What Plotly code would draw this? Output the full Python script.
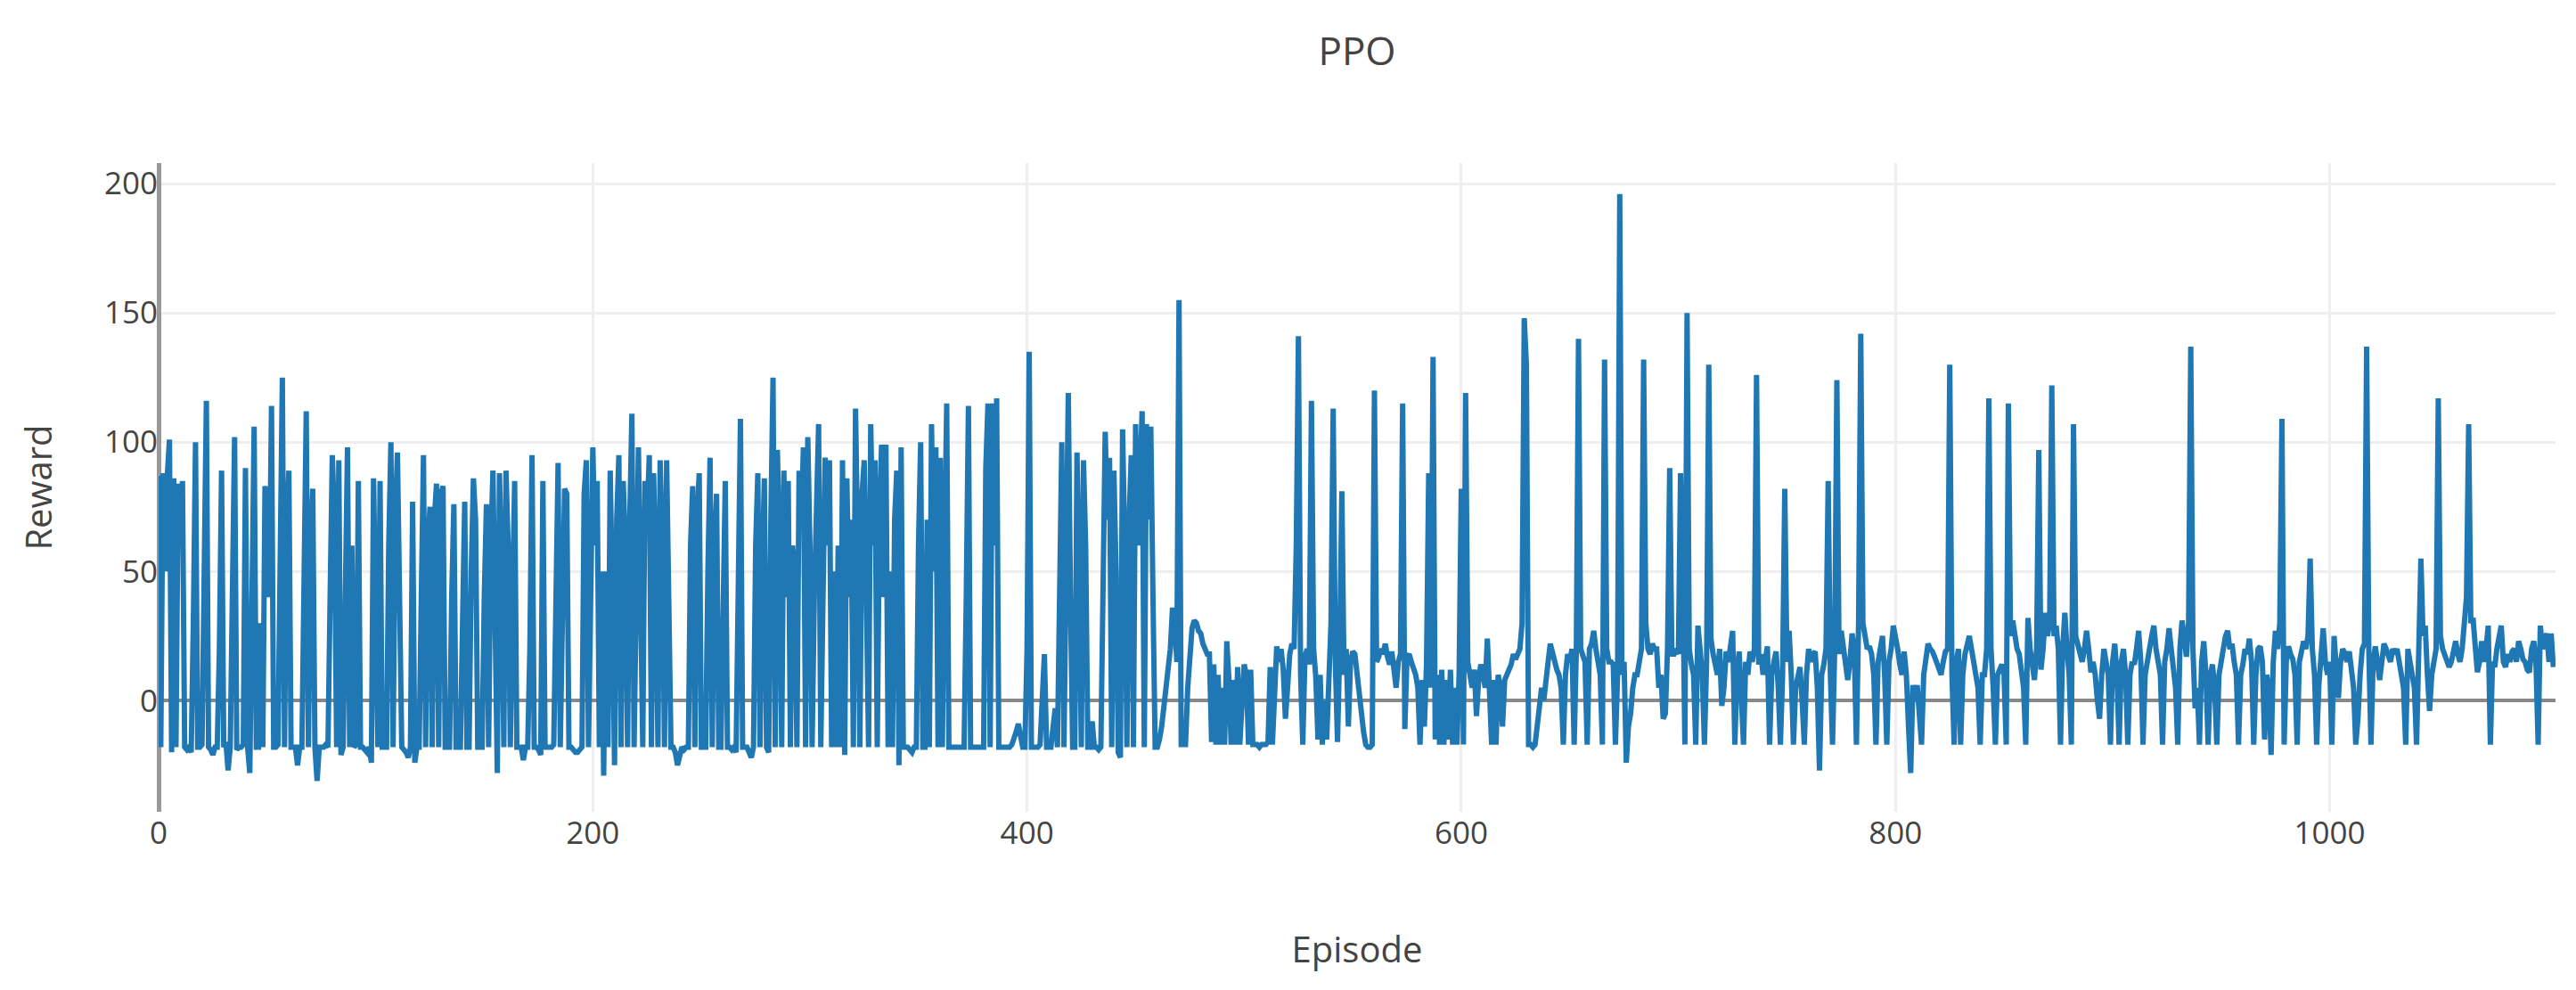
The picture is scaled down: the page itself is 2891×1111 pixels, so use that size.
import plotly.graph_objects as go

# Reward per episode (episodes 0-471)
reward_early = [
    87, -18, 88, 50, 87, 101, -20, 86, -18, 84,
    60, 85, -18, -19, -18, -20, 30, 100, -18, -18,
    -17, 40, 116, -18, -19, -21, -18, -18, 20, 89,
    -18, -16, -27, -18, 60, 102, -19, -18, -18, -17,
    90, -18, -28, 50, 106, -18, -18, 30, -18, 83,
    70, 40, 114, -18, -18, -17, 60, 125, -18, 70,
    89, -18, -18, -18, -25, -18, -18, 50, 112, -18,
    60, 82, -18, -31, -18, -18, -18, -17, -18, 40,
    95, 70, -18, 93, -21, -18, 30, 98, -18, 60,
    -18, -17, 85, -18, -18, -19, -20, -18, -24, 86,
    40, -18, 85, -18, -18, -18, 60, 100, -18, 70,
    96, 20, -18, -19, -20, -22, -18, 77, -24, -18,
    -18, 40, 95, -18, 60, 75, -18, 70, 84, -18,
    80, 83, -18, -18, -18, 40, 76, -18, -18, -18,
    30, 77, -18, -18, 50, 86, 70, -18, -18, -18,
    40, 76, -18, 60, 89, 30, -28, 88, 50, -18,
    89, 60, -18, 40, 85, -18, -18, -18, -23, -18,
    -18, 20, 95, -18, -18, -19, -21, 85, -18, -18,
    -18, -18, -17, 60, 92, -18, 40, 82, 80, -18,
    -18, -19, -20, -20, -19, -18, 80, 93, -18, 40,
    98, 60, 85, -18, 50, -29, 50, -18, 89, 40,
    -25, 70, 95, -18, 85, 60, -18, 70, 111, -18,
    60, 98, 40, -18, 85, 70, 95, -18, 88, 50,
    -18, 93, 60, -18, 93, 30, -18, -18, -20, -25,
    -22, -18, -19, -18, -18, 60, 83, -18, 70, 88,
    -18, -18, -18, 50, 94, -18, 60, 80, -18, -18,
    40, 85, -18, -18, -19, -18, -20, 30, 109, -18,
    -18, -18, -20, -22, -18, 60, 88, -18, 50, 86,
    -18, -20, 70, 125, -18, 97, 60, -18, 89, 40,
    85, -18, 60, 50, -18, 89, 70, 98, -18, 102,
    60, -18, 40, 70, 107, -18, 40, 94, 60, 93,
    -18, 50, -18, 60, -18, 93, -21, 86, 40, 70,
    -18, 113, 60, -18, 80, 93, 40, -18, 107, 60,
    93, -18, 70, 99, 40, 99, -18, 50, -18, 70,
    89, -25, 98, -18, -18, -18, -19, -20, -18, -18,
    60, 100, -18, -18, 70, -18, 107, 50, 98, -18,
    94, -18, 60, 115, -18, -18, -18, -18, -18, -18,
    -18, -18, 40, 114, -18, -18, -18, -18, -18, -18,
    -18, 90, 115, -18, 115, 60, 117, -18, -18, -18,
    -18, -18, -18, -17, -15, -12, -9, -14, -18, -18,
    20, 135, -18, -18, -18, -18, -17, 0, 18, -18,
    -18, -18, -10, -3, -18, 60, 100, -18, 70, 119,
    40, -18, -18, 96, 50, -18, 93, 60, -18, -18,
    -8, -18, -18, -19, -18, 60, 104, 70, 94, -18,
    89, 50, -20, -22, 105, 60, -18, 70, 95, -18,
    107, 60, 80, 112, -18, 107, 70, 106, 40, -18,
    -18, -15, -10, -2, 5, 10, 20, 36, 30, 15,
    155, -17,
]

# Reward per episode (episodes 472-1103)
reward_late = [
    -17, -17, 5, 20, 28, 31, 30, 27,
    26, 22, 20, 18, 18, -16, 14, -17, 10, -17,
    5, -17, 23, 8, -17, 8, -17, 13, -17, 0,
    14, 10, -17, 12, -17, -17, -17, -18, -17, -17,
    -17, -16, 13, -17, 10, 21, 15, 20, 12, -7,
    5, 18, 22, 20, 60, 141, 10, -17, 17, 20,
    14, 116, 20, 9, -15, 10, -17, 0, -15, 5,
    30, 113, 15, -16, 20, 81, 10, 20, -10, 15,
    19, 18, 10, 5, -5, -12, -17, -18, -18, -17,
    120, 15, 17, 20, 18, 22, 17, 14, 19, 10,
    5, 15, 18, 115, -11, 17, 18, 15, 12, 10,
    5, -17, 8, -10, 14, 88, 5, 133, -15, 10,
    -17, 12, -17, 8, -15, 12, -17, 5, -17, 10,
    82, -17, 119, 15, 10, 5, 12, -6, 8, 14,
    10, 5, 24, -5, -17, 8, -17, 10, 5, -10,
    8, 10, 12, 14, 18, 16, 18, 20, 30, 148,
    130, -17, -17, -18, -17, -10, -5, 5, 0, 10,
    15, 22, 18, 14, 12, 10, 5, -17, 10, 18,
    15, 20, -17, 20, 140, 20, 18, 15, -17, 20,
    22, 27, 20, 15, 10, -17, 132, 20, 15, 15,
    14, -17, 10, 196, 10, 15, -24, -10, -5, 5,
    10, 10, 15, 20, 132, 30, 20, 18, 22, 20,
    20, 5, 10, -7, -5, 20, 90, 18, 18, 20,
    18, 88, 50, -17, 150, 20, 14, 10, -17, 29,
    20, 10, -17, 15, 130, 24, 18, 14, 10, 20,
    -2, 5, 19, 15, 22, 27, -17, 10, 19, 5,
    -17, 15, 10, 19, 15, 20, 126, 14, 18, 10,
    15, 21, -17, 10, 15, 19, 5, -17, 10, 82,
    15, 27, 10, -17, 5, 10, 13, 0, -17, 10,
    20, 15, 18, 19, 5, -27, 10, 14, 20, 85,
    10, -17, 20, 124, 18, 27, 20, 15, 8, 15,
    26, 20, -17, 30, 142, 30, 26, 20, 21, 18,
    10, -17, 15, 20, 25, 10, -17, 15, 20, 29,
    25, 20, 14, 10, 19, 10, -10, -28, 6, 0,
    6, -5, -17, 10, 18, 22, 20, 19, 17, 15,
    12, 10, 15, 19, 20, 130, 10, -17, 15, 20,
    -17, 10, 18, 22, 25, 20, 14, 10, 5, -17,
    10, 10, 20, 117, 20, 5, -17, 10, 12, 14,
    10, -17, 115, 25, 31, 25, 20, 18, 10, 5,
    -17, 32, 20, 15, 8, 20, 97, 12, 20, 34,
    25, 30, 122, 25, 29, 20, -17, 20, 34, 20,
    10, -17, 107, 25, 21, 18, 15, 20, 27, 20,
    11, 15, 10, 0, -7, 10, 20, 15, 10, -17,
    15, 22, 10, -17, 15, 20, 10, -17, 10, 15,
    14, 20, 27, 15, -17, 10, 17, 20, 25, 29,
    20, 14, 10, -17, 15, 20, 28, 20, 10, 5,
    -17, 20, 31, 25, 17, 30, 137, 20, -3, 5,
    -17, 15, 23, 10, -17, 10, 14, 5, -17, 10,
    14, 20, 25, 27, 20, 22, 15, 10, -17, 10,
    14, 20, 18, 24, 15, -17, 10, 20, 21, 15,
    -15, 10, 5, -21, 15, 27, 20, 30, 109, -17,
    15, 21, 18, 16, 10, -17, 15, 20, 23, 20,
    25, 55, 20, 10, -17, 6, 20, 28, 15, 10,
    15, -17, 25, 15, 1, 15, 20, 18, 15, 19,
    10, 5, -17, -7, 10, 20, 22, 137, 20, -17,
    15, 21, 15, 8, 15, 22, 20, 18, 15, 20,
    18, 20, 15, 10, 5, -17, 20, 15, 10, 5,
    -17, 20, 55, 25, 29, 10, -4, 10, 15, 20,
    117, 25, 20, 18, 15, 13, 15, 20, 23, 18,
    15, 20, 33, 40, 107, 30, 32, 20, 11, 15,
    23, 15, 20, 29, -17, 15, 13, 20, 25, 29,
    15, 13, 18, 15, 19, 20, 15, 23, 20, 16,
    15, 12, 11, 20, 23, 15, -17, 29, 20, 23,
    26, 15, 26, 13,
]

reward = reward_early + reward_late
episodes = list(range(len(reward)))

fig = go.Figure()
fig.add_trace(go.Scatter(
    x=episodes,
    y=reward,
    mode="lines",
    line=dict(color="#1f77b4", width=6),
    showlegend=False,
))

fig.update_layout(
    width=2891,
    height=1111,
    margin=dict(l=170, r=31, t=175, b=208),
    paper_bgcolor="white",
    plot_bgcolor="white",
    font=dict(family="Open Sans", color="#444", size=35),
    title=dict(text="PPO", x=0.5, xref="paper", y=0.955, yanchor="middle",
               font=dict(size=44, color="#444")),
)

fig.update_xaxes(
    title=dict(text="Episode", font=dict(size=40), standoff=95),
    range=[0, 1104],
    tickvals=[0, 200, 400, 600, 800, 1000],
    showgrid=True, gridcolor="#eeeeee", gridwidth=3,
    zeroline=True, zerolinecolor="#999999", zerolinewidth=5,
    showline=False, ticks="",
)
fig.update_yaxes(
    title=dict(text="Reward", font=dict(size=40), standoff=45),
    range=[-43, 208],
    tickvals=[0, 50, 100, 150, 200],
    showgrid=True, gridcolor="#eeeeee", gridwidth=3,
    zeroline=True, zerolinecolor="#888888", zerolinewidth=4,
    showline=False, ticks="",
)

fig.write_html("out.html")
